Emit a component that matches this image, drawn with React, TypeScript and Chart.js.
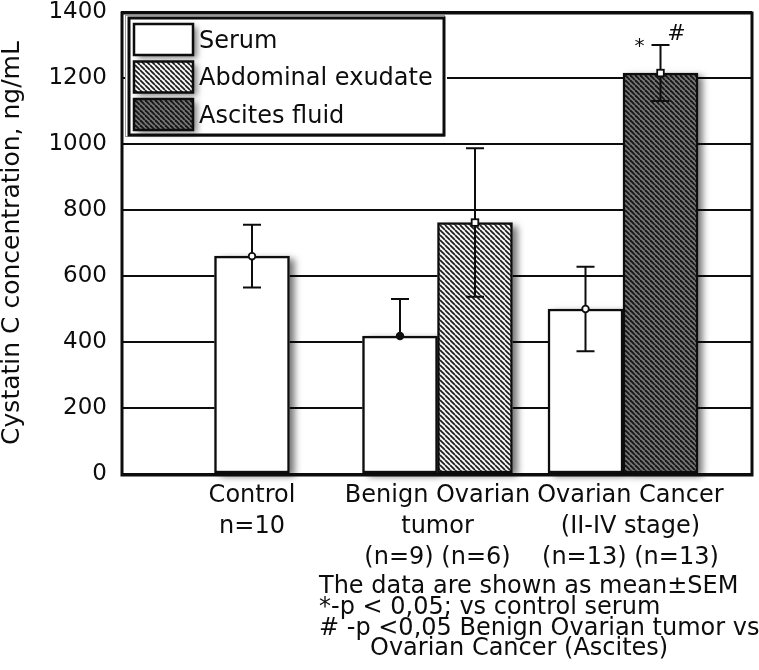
import React, { useEffect, useRef } from 'react';
import { Chart, registerables } from 'chart.js';

Chart.register(...registerables);

// ---------- data ----------
const categoryPositions = [1, 2, 3];
const categoryLabels = [
  ['Control', 'n=10'],
  ['Benign Ovarian', 'tumor', '(n=9) (n=6)'],
  ['Ovarian Cancer', '(II-IV stage)', '(n=13) (n=13)'],
];
const seriesNames = ['Serum', 'Abdominal exudate', 'Ascites fluid'];
const serumMean = [660, 418, 500];
const serumSem = [95, 112, 128];
const serumLowerShown = [true, false, true];
const exudateMean = [null, 762, null];
const exudateSem = [null, 225, null];
const ascitesMean = [null, null, 1215];
const ascitesSem = [null, null, 85];
const yMin = 0;
const yMax = 1400;
const yStep = 200;
const yTitle = 'Cystatin C concentration, ng/mL';
const significanceMarks = ['*', '#'];
const noteLines = [
  'The data are shown as mean\u00b1SEM',
  '*-p < 0,05; vs control serum',
  '# -p <0,05 Benign Ovarian tumor vs',
  'Ovarian Cancer (Ascites)',
];

const FONT = "'DejaVu Sans', 'Liberation Sans', Arial, sans-serif";
const INK = '#0d0d0d';

function stripePattern(bg: string, fg: string, period: number, lw: number) {
  const c = document.createElement('canvas');
  c.width = period;
  c.height = period;
  const g = c.getContext('2d')!;
  g.fillStyle = bg;
  g.fillRect(0, 0, period, period);
  g.strokeStyle = fg;
  g.lineWidth = lw;
  for (const o of [-period, 0, period]) {
    g.beginPath();
    g.moveTo(o, 0);
    g.lineTo(o + period, period);
    g.stroke();
  }
  return g.createPattern(c, 'repeat')!;
}

const toPoints = (vals: (number | null)[]) =>
  categoryPositions.map((x, i) => ({ x, y: vals[i] }));

export default function App() {
  const ref = useRef<HTMLCanvasElement | null>(null);

  useEffect(() => {
    document.body.style.margin = '0';
    const canvas = ref.current!;
    const exPattern = stripePattern('#f6f6f6', '#1c1c1c', 5, 1.7);
    const asPattern = stripePattern('#767676', '#161616', 5, 1.9);

    const errInfo = [
      { mean: serumMean, sem: serumSem, lower: serumLowerShown, marker: 'circle' },
      { mean: exudateMean, sem: exudateSem, lower: [true, true, true], marker: 'square' },
      { mean: ascitesMean, sem: ascitesSem, lower: [true, true, true], marker: 'square' },
    ];

    const shadowPlugin = {
      id: 'barShadow',
      beforeDatasetsDraw(chart: any) {
        const ctx = chart.ctx;
        ctx.save();
        ctx.shadowColor = 'rgba(0,0,0,0.55)';
        ctx.shadowBlur = 7;
        ctx.shadowOffsetX = 5;
        ctx.shadowOffsetY = 3;
        ctx.fillStyle = '#ffffff';
        chart.data.datasets.forEach((ds: any, di: number) => {
          const meta = chart.getDatasetMeta(di);
          meta.data.forEach((el: any, i: number) => {
            if (ds.data[i].y == null) return;
            const { x, y, base, width } = el.getProps(['x', 'y', 'base', 'width'], true);
            ctx.fillRect(x - width / 2, y, width, base - y);
          });
        });
        ctx.restore();
      },
    };

    const overlayPlugin = {
      id: 'overlay',
      afterDatasetsDraw(chart: any) {
        const ctx = chart.ctx;
        const ys = chart.scales.y;
        const area = chart.chartArea;
        ctx.save();
        // error bars
        ctx.strokeStyle = INK;
        ctx.lineWidth = 2;
        chart.data.datasets.forEach((ds: any, di: number) => {
          const meta = chart.getDatasetMeta(di);
          const info = errInfo[di];
          meta.data.forEach((el: any, i: number) => {
            const m = info.mean[i];
            const s = info.sem[i];
            if (m == null || s == null) return;
            const x = el.x;
            const yM = ys.getPixelForValue(m);
            const yT = ys.getPixelForValue(m + s);
            const yB = ys.getPixelForValue(m - s);
            const cap = 9;
            ctx.beginPath();
            ctx.moveTo(x, yM);
            ctx.lineTo(x, yT);
            ctx.moveTo(x - cap, yT);
            ctx.lineTo(x + cap, yT);
            if (info.lower[i]) {
              ctx.moveTo(x, yM);
              ctx.lineTo(x, yB);
              ctx.moveTo(x - cap, yB);
              ctx.lineTo(x + cap, yB);
            }
            ctx.stroke();
            ctx.fillStyle = '#ffffff';
            ctx.lineWidth = 1.8;
            if (info.marker === 'circle') {
              ctx.beginPath();
              ctx.arc(x, yM, 3.3, 0, Math.PI * 2);
              if (!info.lower[i]) {
                ctx.fillStyle = INK;
              }
              ctx.fill();
              ctx.stroke();
            } else {
              ctx.fillRect(x - 3.3, yM - 3.3, 6.6, 6.6);
              ctx.strokeRect(x - 3.3, yM - 3.3, 6.6, 6.6);
            }
            ctx.lineWidth = 2;
            // significance marks for the ascites bar
            if (di === 2) {
              ctx.fillStyle = INK;
              ctx.textAlign = 'center';
              ctx.textBaseline = 'middle';
              ctx.font = `20px ${FONT}`;
              ctx.fillText(significanceMarks[0], x - 21, yT + 2);
              ctx.font = `22px ${FONT}`;
              ctx.fillText(significanceMarks[1], x + 16, yT - 11);
            }
          });
        });
        // frame
        ctx.strokeStyle = INK;
        ctx.lineWidth = 3;
        ctx.strokeRect(area.left + 1, area.top + 1, area.right - area.left - 1, area.bottom - area.top);
        // legend
        const lx = area.left + 8;
        const ly = area.top + 6;
        const lw = 315;
        const lh = 117;
        ctx.fillStyle = '#ffffff';
        ctx.fillRect(lx - 3, ly - 3, lw + 6, lh + 6);
        ctx.strokeStyle = '#9a9a9a';
        ctx.lineWidth = 1;
        ctx.strokeRect(lx - 3.5, ly - 2.5, lw + 4, lh + 4);
        ctx.strokeStyle = INK;
        ctx.lineWidth = 3;
        ctx.strokeRect(lx, ly, lw, lh);
        chart.data.datasets.forEach((ds: any, di: number) => {
          const sx = lx + 5;
          const sy = ly + 6 + di * 37.5;
          const sw = 59;
          const sh = 31;
          ctx.save();
          ctx.shadowColor = 'rgba(0,0,0,0.5)';
          ctx.shadowBlur = 6;
          ctx.shadowOffsetX = 4;
          ctx.shadowOffsetY = 3;
          ctx.fillStyle = ds.backgroundColor;
          ctx.fillRect(sx, sy, sw, sh);
          ctx.restore();
          ctx.strokeStyle = INK;
          ctx.lineWidth = 2.5;
          ctx.strokeRect(sx, sy, sw, sh);
          ctx.fillStyle = INK;
          ctx.font = `24px ${FONT}`;
          ctx.textAlign = 'left';
          ctx.textBaseline = 'middle';
          ctx.fillText(ds.label, sx + sw + 6, sy + sh / 2 + 2);
        });
        ctx.restore();
      },
      afterDraw(chart: any) {
        const ctx = chart.ctx;
        ctx.save();
        ctx.fillStyle = INK;
        ctx.font = `24px ${FONT}`;
        ctx.textAlign = 'left';
        ctx.textBaseline = 'middle';
        const starts = [319, 319, 319, 370];
        noteLines.forEach((t, i) => {
          ctx.fillText(t, starts[i], 587 + i * 20.7);
        });
        ctx.restore();
      },
    };

    const labelNudge = [0, 0, 0.04];

    const chart = new Chart(canvas, {
      type: 'bar',
      data: {
        datasets: [
          {
            label: seriesNames[0],
            data: toPoints(serumMean),
            backgroundColor: '#ffffff',
          },
          {
            label: seriesNames[1],
            data: toPoints(exudateMean),
            backgroundColor: exPattern,
          },
          {
            label: seriesNames[2],
            data: toPoints(ascitesMean),
            backgroundColor: asPattern,
          },
        ] as any,
      },
      options: {
        responsive: false,
        animation: false,
        devicePixelRatio: 1,
        skipNull: true,
        datasets: {
          bar: {
            barThickness: 75,
            borderColor: INK,
            borderWidth: 2.5,
            borderSkipped: false,
          },
        },
        layout: { padding: { left: 0, top: 12, right: 7, bottom: 0 } },
        plugins: {
          legend: { display: false },
          tooltip: { enabled: false },
        },
        scales: {
          x: {
            type: 'linear',
            offset: false,
            min: 0.2938,
            max: 3.6954,
            grid: { display: false, offset: false },
            border: { display: false },
            afterBuildTicks: (scale: any) => {
              scale.ticks = categoryPositions.map((v, i) => ({ value: v + labelNudge[i] }));
            },
            afterFit: (scale: any) => {
              scale.height = 196;
              scale.paddingLeft = 0;
              scale.paddingRight = 0;
            },
            ticks: {
              autoSkip: false,
              maxRotation: 0,
              minRotation: 0,
              padding: -2,
              color: INK,
              font: { family: FONT, size: 24, lineHeight: 1.29 },
              callback: (_v: any, i: number) => categoryLabels[i],
            },
          },
          y: {
            min: yMin,
            max: yMax,
            grid: { color: INK, lineWidth: 2, drawTicks: false },
            border: { display: false },
            afterFit: (scale: any) => {
              scale.width = 121;
              scale.paddingTop = 0;
              scale.paddingBottom = 0;
            },
            ticks: {
              stepSize: yStep,
              padding: 14,
              color: INK,
              font: { family: FONT, size: 23 },
              callback: (v: any) => String(v),
            },
            title: {
              display: true,
              text: yTitle,
              color: INK,
              padding: 0,
              font: { family: FONT, size: 25, lineHeight: 1 },
            },
          },
        },
      } as any,
      plugins: [shadowPlugin, overlayPlugin],
    });
    return () => chart.destroy();
  }, []);

  return (
    <div style={{ width: 759, height: 670, background: '#ffffff' }}>
      <canvas ref={ref} width={759} height={670} style={{ display: 'block', width: 759, height: 670 }} />
    </div>
  );
}
